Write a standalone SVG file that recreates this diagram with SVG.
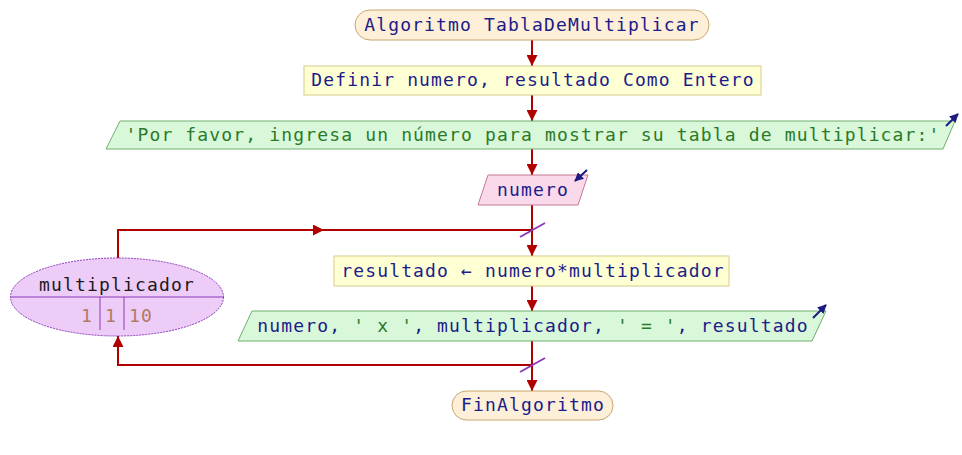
<svg xmlns="http://www.w3.org/2000/svg" width="962" height="455" viewBox="0 0 962 455">
<defs>
<marker id="ah" viewBox="0 0 10 10" refX="10" refY="5" markerWidth="5.5" markerHeight="5.5" orient="auto" markerUnits="strokeWidth">
<path d="M0,0 L10,5 L0,10 Z" fill="#b00000"/>
</marker>
<marker id="ahb" viewBox="0 0 10 10" refX="9" refY="5" markerWidth="4.5" markerHeight="4.5" orient="auto" markerUnits="strokeWidth">
<path d="M0,0 L10,5 L0,10 Z" fill="#1a1a80"/>
</marker>
<style>
text{font-family:"DejaVu Sans Mono","Liberation Mono",monospace;font-size:18px;letter-spacing:1.15px;text-anchor:middle}
.nv{fill:#1c1c8a}
.gr{fill:#2a7a2a}
.bk{fill:#1a1a1a}
.br{fill:#b07a60}
.term{fill:#fdefd8;stroke:#c8a66e;stroke-width:1}
.proc{fill:#ffffd4;stroke:#d6cc8a;stroke-width:1}
.out{fill:#d9f8d9;stroke:#6fae6f;stroke-width:1}
.inp{fill:#f9d9ea;stroke:#c67898;stroke-width:1}
.loop{fill:#eeccf8;stroke:#8a3ab9;stroke-width:1}
.ln{fill:none;stroke:#b00000;stroke-width:2}
.sl{stroke:#8a3ab9;stroke-width:2}
.io{stroke:#1a1a80;stroke-width:2;fill:none}
</style>
</defs>
<g id="connectors">
<line class="ln" x1="532" y1="40" x2="532" y2="66" marker-end="url(#ah)"/>
<line class="ln" x1="532" y1="95" x2="532" y2="121" marker-end="url(#ah)"/>
<line class="ln" x1="532" y1="149" x2="532" y2="175" marker-end="url(#ah)"/>
<line class="ln" x1="532" y1="205" x2="532" y2="256" marker-end="url(#ah)"/>
<line class="ln" x1="532" y1="286" x2="532" y2="311" marker-end="url(#ah)"/>
<line class="ln" x1="532" y1="341" x2="532" y2="391" marker-end="url(#ah)"/>
<path class="ln" d="M118,258 L118,230 L532,230"/>
<line class="ln" x1="118" y1="230" x2="324" y2="230" marker-end="url(#ah)"/>
<path class="ln" d="M532,365 L118,365 L118,336"/>
<line class="ln" x1="118" y1="350" x2="118" y2="336" marker-end="url(#ah)"/>
<line class="sl" x1="520" y1="237" x2="545" y2="223"/>
<line class="sl" x1="520" y1="372" x2="545" y2="358"/>
</g>
<g id="start">
<rect class="term" x="355" y="10" width="354" height="30" rx="15"/>
<text class="nv" x="532" y="31">Algoritmo TablaDeMultiplicar</text>
</g>
<g id="define">
<rect class="proc" x="304" y="66" width="457" height="29"/>
<text class="nv" x="533" y="86">Definir numero, resultado Como Entero</text>
</g>
<g id="output1">
<polygon class="out" points="120,121 955,121 943,149 106,149"/>
<text class="gr" x="533" y="141">'Por favor, ingresa un número para mostrar su tabla de multiplicar:'</text>
<line class="io" x1="946" y1="126" x2="958" y2="114" marker-end="url(#ahb)"/>
</g>
<g id="input">
<polygon class="inp" points="488,175 588,175 578,205 478,205"/>
<text class="nv" x="533" y="196">numero</text>
<line class="io" x1="587" y1="170" x2="575" y2="181" marker-end="url(#ahb)"/>
</g>
<g id="loop">
<ellipse class="loop" cx="117" cy="297" rx="106.5" ry="39" stroke-dasharray="2,1"/>
<line stroke="#8a3ab9" stroke-width="1" x1="10.5" y1="297" x2="223.5" y2="297"/>
<line stroke="#8a3ab9" stroke-width="1" x1="100" y1="297" x2="100" y2="330"/>
<line stroke="#8a3ab9" stroke-width="1" x1="124" y1="297" x2="124" y2="330"/>
<text class="bk" x="117" y="291">multiplicador</text>
<text class="br" x="87" y="322">1</text>
<text class="br" x="111" y="322">1</text>
<text class="br" x="141" y="322">10</text>
</g>
<g id="assign">
<rect class="proc" x="334" y="256" width="395" height="30"/>
<text class="nv" x="533" y="277">resultado ← numero*multiplicador</text>
</g>
<g id="output2">
<polygon class="out" points="252,311 826,311 812,341 238,341"/>
<text x="533" y="332"><tspan class="nv">numero, </tspan><tspan class="gr">' x '</tspan><tspan class="nv">, multiplicador, </tspan><tspan class="gr">' = '</tspan><tspan class="nv">, resultado</tspan></text>
<line class="io" x1="813" y1="318" x2="826" y2="305" marker-end="url(#ahb)"/>
</g>
<g id="end">
<rect class="term" x="452" y="391" width="161" height="29" rx="14.5"/>
<text class="nv" x="533" y="411">FinAlgoritmo</text>
</g>
</svg>
